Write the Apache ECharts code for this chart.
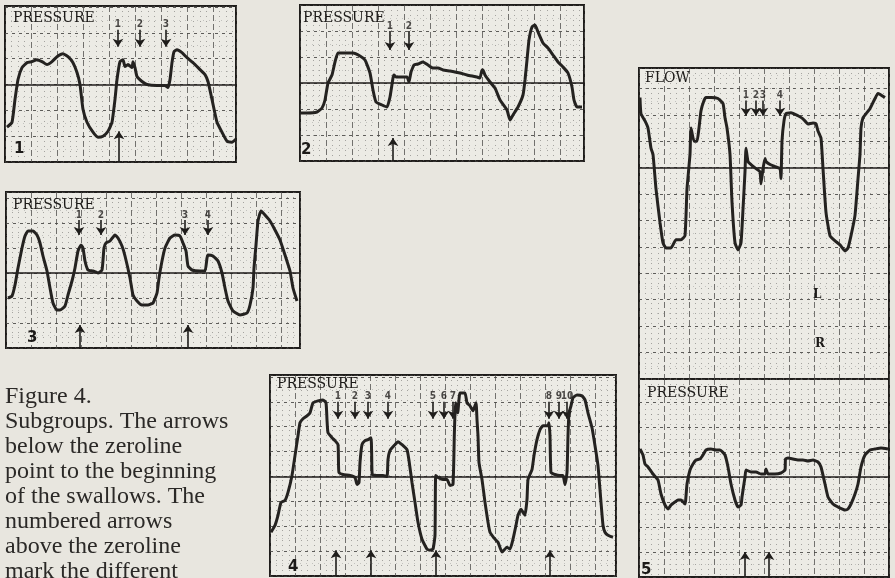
<!DOCTYPE html>
<html><head><meta charset="utf-8">
<script src="https://cdn.jsdelivr.net/npm/echarts@6/dist/echarts.min.js"></script>
<style>html,body{margin:0;padding:0;background:#e8e6df;}#c{width:895px;height:578px;}</style>
</head><body><div id="c"></div>
<script>
// ---- traced signals (x: time offset, y: deflection from zeroline) ----
const p1Pressure = [[2,-43],[7,-38],[10,-15],[13,5],[17,17],[22,22],[27,23],[32,25],[37,23],[42,20],[47,23],[52,28],[58,31],[63,28],[68,22],[72,12],[75,0],[78,-25],[82,-38],[88,-48],[93,-53],[98,-52],[103,-47],[107,-38],[110,-15],[112,5],[115,23],[118,25],[120,18],[123,20],[127,17],[128,23],[130,17],[132,8],[137,3],[142,0],[152,-1],[160,-1],[163,-3],[165,5],[167,22],[169,33],[172,35],[177,32],[182,27],[188,22],[195,15],[200,10],[203,3],[207,-15],[212,-38],[217,-48],[222,-57],[227,-58],[231,-55]];
const p2Pressure = [[0,-30],[7,-30],[17,-29],[22,-25],[25,-17],[28,0],[32,8],[35,21],[38,30],[45,30],[53,30],[60,27],[65,23],[70,10],[73,-7],[76,-19],[82,-22],[87,-24],[90,-14],[93,5],[94,8],[96,6],[107,6],[109,1],[111,11],[113,16],[114,18],[118,19],[123,21],[128,18],[133,15],[138,15],[143,13],[150,12],[155,11],[160,10],[167,8],[177,6],[180,5],[182,13],[183,13],[185,8],[190,1],[195,-5],[200,-17],[207,-27],[210,-37],[213,-32],[218,-24],[223,-12],[225,3],[227,23],[229,43],[232,56],[235,58],[238,51],[243,40],[248,35],[253,28],[258,21],[263,16],[268,10],[272,-4],[274,-17],[277,-24],[282,-24]];
const p3Pressure = [[2,-25],[6,-23],[9,-12],[12,5],[16,25],[19,37],[22,42],[27,42],[31,38],[34,30],[37,17],[41,2],[44,-15],[47,-30],[51,-37],[54,-37],[59,-33],[62,-22],[66,-8],[69,5],[72,22],[75,28],[77,25],[79,12],[82,3],[87,2],[92,0],[96,3],[98,25],[100,30],[104,32],[109,38],[112,35],[116,27],[119,17],[124,-5],[127,-22],[131,-28],[136,-32],[142,-32],[147,-30],[151,-20],[153,-5],[156,12],[159,25],[164,35],[169,38],[174,37],[177,30],[180,22],[182,7],[186,3],[194,2],[199,2],[201,15],[202,18],[207,17],[212,12],[216,0],[219,-15],[222,-28],[227,-38],[234,-42],[241,-40],[244,-32],[247,-15],[248,5],[250,28],[252,52],[255,62],[259,58],[264,52],[269,43],[274,33],[279,18],[284,2],[287,-15],[291,-28]];
const p4Pressure = [[1,-56],[5,-49],[8,-39],[11,-26],[15,-24],[18,-16],[22,1],[25,21],[28,41],[30,54],[33,58],[37,61],[40,64],[43,74],[48,76],[53,77],[56,74],[57,57],[58,44],[62,39],[65,36],[68,32],[68.5,14],[69,4],[73,2],[80,1],[85,-1],[87,-8],[89,-6],[90,14],[92,32],[95,36],[98,37],[101,39],[101.7,21],[102.3,2],[108,1],[113,1],[117,0],[118,17],[120,26],[125,32],[128,35],[132,32],[137,27],[139,16],[142,-6],[145,-26],[148,-46],[152,-63],[157,-73],[160,-74],[163,-73],[165,-59],[165.7,1],[168,-1],[173,-3],[177,-3],[180,-9],[183,-8],[184.3,41],[185,64],[185.7,74],[187.7,64],[190,84],[195,84],[197,74],[200,71],[203,66],[206,74],[207,57],[208,41],[209,14],[212,-3],[215,-26],[218,-46],[220,-56],[225,-63],[228,-66],[232,-76],[237,-71],[240,-73],[243,-63],[246,-49],[248,-39],[251,-33],[253,-36],[255,-39],[257,-23],[258,-3],[262,7],[264,21],[267,37],[270,47],[273,51],[278,51],[279,54],[280,41],[281,4],[285,2],[290,1],[293,1],[295,-8],[297,4],[298,41],[299,64],[301,71],[303,79],[307,82],[312,81],[315,77],[318,64],[322,49],[325,31],[328,11],[331,-26],[333,-49],[335,-56],[338,-59],[343,-61]];
const p5Flow = [[1,69],[2,53],[6,46],[9,39],[12,19],[14,13],[17,-21],[21,-54],[24,-74],[27,-79],[32,-79],[37,-71],[42,-71],[46,-67],[48,-21],[51,13],[52,39],[55,26],[58,26],[60,39],[62,56],[65,66],[67,69],[72,69],[79,68],[84,63],[86,49],[88,39],[91,13],[93,-34],[96,-74],[99,-81],[102,-74],[104,-41],[106,-4],[107,19],[109,6],[112,3],[117,-1],[121,-4],[122,-16],[124,-1],[126,9],[127,6],[131,3],[136,1],[141,-1],[142,-11],[143,26],[145,46],[147,53],[152,54],[159,51],[164,48],[169,43],[174,44],[177,43],[179,36],[182,29],[184,-1],[187,-44],[191,-67],[196,-72],[201,-76],[206,-82],[209,-79],[212,-67],[216,-47],[219,-11],[221,13],[222,39],[224,49],[227,53],[231,58],[236,68],[239,73],[246,69]];
const p5Pressure = [[1,28],[4,22],[6,13],[9,10],[14,3],[19,-3],[22,-17],[26,-28],[29,-32],[32,-28],[36,-25],[39,-23],[42,-23],[46,-27],[48,-7],[51,7],[54,13],[57,17],[61,18],[64,22],[67,27],[72,28],[77,27],[81,27],[86,22],[89,10],[92,-7],[96,-23],[99,-30],[102,-28],[103,-20],[106,0],[107,7],[112,5],[117,5],[122,3],[126,3],[127,8],[129,3],[136,3],[142,4],[146,7],[146.5,18],[149,19],[154,18],[159,17],[164,17],[169,16],[174,17],[179,15],[182,10],[186,-7],[189,-20],[194,-27],[199,-30],[206,-33],[209,-32],[212,-27],[216,-17],[219,-7],[222,10],[226,22],[231,27],[236,28],[242,29],[249,28]];

// numbered event arrows (above zeroline) and swallow onsets (below)
const p1MarkX = [113,135,161], p1MarkLabels = ['1','2','3'], p1SwallowX = [114];
const p2MarkX = [90,109], p2MarkLabels = ['1','2'], p2SwallowX = [93];
const p3MarkX = [73,95,179,202], p3MarkLabels = ['1','2','3','4'], p3SwallowX = [74,182];
const p4MarkX = [68,85,98,118,163,174,183,279,289,297], p4MarkLabels = ['1','2','3','4','5','6','7','8','9','10'], p4SwallowX = [66,101,166,280];
const p5MarkX = [107,117,124,141], p5MarkLabels = ['1','2','3','4'];
const p5SwallowX = [106,130];

const captionLines = ['Figure 4.','Subgroups. The arrows','below the zeroline','point to the beginning','of the swallows. The','numbered arrows','above the zeroline','mark the different'];

// ---- build ----
const INK = '#242220';
const grids = [], xAxes = [], yAxes = [], series = [];
function panel(g, xMax, yMin, yMax, xInt, yInt, trace, markX, markLabels, down, swallowX, up) {
  const i = grids.length;
  grids.push(Object.assign({show:true, backgroundColor:'#ecebe5', borderColor:'#1f1d1b', borderWidth:2, containLabel:false}, g));
  xAxes.push({type:'value', gridIndex:i, min:0, max:xMax, interval:xInt,
    axisLabel:{show:false}, axisTick:{show:false},
    axisLine:{show:true, onZero:true, lineStyle:{color:'#1f1d1b', width:1.6}},
    splitLine:{show:true, lineStyle:{color:'#4a4846', width:1, type:[6,3], opacity:0.75}},
    minorTick:{show:false, splitNumber:4},
    minorSplitLine:{show:true, lineStyle:{color:'#6a6866', width:1, type:[1,4], opacity:0.55}}});
  yAxes.push({type:'value', gridIndex:i, min:yMin, max:yMax, interval:yInt,
    axisLabel:{show:false}, axisTick:{show:false}, axisLine:{show:false},
    splitLine:{show:true, lineStyle:{color:'#3a3836', width:1, type:[3,4], opacity:0.8}},
    minorTick:{show:false, splitNumber:2},
    minorSplitLine:{show:true, lineStyle:{color:'#777', width:1, type:[1,5], opacity:0.35}}});
  const mlData = [];
  if (markX && down) markX.forEach(x => mlData.push([{coord:[x,down[0]]},{coord:[x,down[1]]}]));
  if (swallowX && up) swallowX.forEach(x => mlData.push([{coord:[x,up[0]]},{coord:[x,up[1]]}]));
  series.push({type:'line', xAxisIndex:i, yAxisIndex:i, data:trace, showSymbol:false, smooth:0.15,
    lineStyle:{color:INK, width:3}, z:5, silent:true, animation:false,
    markLine:{silent:true, symbol:['none','arrow'], symbolSize:8, animation:false,
      lineStyle:{color:'#1f1d1b', width:1.6, type:'solid'}, label:{show:false}, data:mlData}});
  if (markX && down) {
    series.push({type:'scatter', xAxisIndex:i, yAxisIndex:i, symbol:'circle', symbolSize:2, itemStyle:{color:'rgba(0,0,0,0)'}, silent:true, animation:false, z:6,
      data: markX.map((x,k)=>({name:markLabels[k], value:[x, down[0]+5]})),
      label:{show:true, position:'inside', formatter:p=>p.name, color:'#1f1d1b', fontSize:10, fontWeight:'bold', fontFamily:'DejaVu Sans Condensed, DejaVu Sans'}});
  }
}
panel({left:5, top:6, width:231, height:156}, 231, -78, 79, 26, 26, p1Pressure, p1MarkX, p1MarkLabels, [55,38], p1SwallowX, [-78,-47]);
panel({left:300, top:5, width:284, height:156}, 284, -78, 78, 26, 26, p2Pressure, p2MarkX, p2MarkLabels, [52,33], p2SwallowX, [-78,-55]);
panel({left:6, top:192, width:294, height:156}, 294, -75, 81, 25, 25, p3Pressure, p3MarkX, p3MarkLabels, [53,38], p3SwallowX, [-75,-52]);
panel({left:270, top:375, width:346, height:201}, 346, -100, 102, 25, 25, p4Pressure, p4MarkX, p4MarkLabels, [75,58], p4SwallowX, [-100,-74]);
panel({left:639, top:68, width:250, height:311}, 250, -208, 98, 25, 26, p5Flow, p5MarkX, p5MarkLabels, [66,51], null, null);
panel({left:639, top:379, width:250, height:198}, 250, -100, 98, 25, 25, p5Pressure, null, null, null, p5SwallowX, [-100,-75]);

const labelFont = '14px "DejaVu Serif"';
const numFont = 'bold 15px "DejaVu Sans"';
function t(x, y, text, font, extra) { return Object.assign({type:'text', left:x, top:y, z:50, style:{text, font, fill:'#1c1a18'}}, extra||{}); }
const graphic = [
  t(13, 11, 'PRESSURE', labelFont), t(303, 11, 'PRESSURE', labelFont), t(13, 198, 'PRESSURE', labelFont),
  t(277, 377, 'PRESSURE', labelFont), t(645, 71, 'FLOW', labelFont), t(647, 386, 'PRESSURE', labelFont),
  t(14, 142, '1', numFont), t(301, 143, '2', numFont), t(27, 331, '3', numFont), t(288, 560, '4', numFont), t(641, 563, '5', numFont),
  t(813, 289, 'L', 'bold 12px "DejaVu Serif"'), t(815, 338, 'R', 'bold 12px "DejaVu Serif"'),
  {type:'text', left:5, top:384, z:50, style:{text:captionLines.join('\n'), font:'24px "Liberation Serif"', fill:'#2b2927', lineHeight:25}}
];

const chart = echarts.init(document.getElementById('c'), null, {renderer:'canvas'});
chart.setOption({backgroundColor:'#e8e6df', animation:false, grid:grids, xAxis:xAxes, yAxis:yAxes, series, graphic});
</script></body></html>
